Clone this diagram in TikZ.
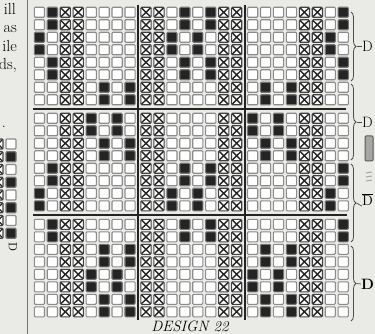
\documentclass[tikz,border=0pt]{standalone}
\usepackage{tikz}
\usetikzlibrary{decorations.pathreplacing}
\definecolor{paper}{RGB}{234,234,231}
\definecolor{ink}{RGB}{36,36,36}

\begin{document}
\begin{tikzpicture}[x=1pt, y=-1pt,
        cello/.style={draw=black!45, line width=1.1pt, fill=white, rounded corners=1pt},
        cellb/.style={draw=black!55, line width=1.1pt, fill=ink, rounded corners=1pt},
        cellx/.style={draw=black!75, line width=1.1pt, fill=white, rounded corners=1pt,
            path picture={\draw[crossline] (path picture bounding box.north west) -- (path picture bounding box.south east)
                (path picture bounding box.north east) -- (path picture bounding box.south west);}},
        crossline/.style={ink, line width=1.4pt},
        blockline/.style={ink, line width=1.9pt},
        bracemark/.style={black!70, line width=0.8pt, decorate, decoration={brace, amplitude=5pt}},
        dlabel/.style={font=\fontsize{15}{15}\selectfont, inner sep=0pt},
        pagetext/.style={font=\fontsize{16}{16}\selectfont, inner sep=0pt, anchor=base east}]

        % paper
        \fill[paper] (0,0) rectangle (375,334);
        \useasboundingbox (0,0) rectangle (375,334);
        \clip (0,0) rectangle (375,334);

        % text of the next column
        \node[pagetext] (wa) at (16,15) {ill};
        \node[pagetext] (wb) at (17,33) {as};
        \node[pagetext] (wc) at (17,52) {ile};
        \node[pagetext] (wd) at (17,70) {ds,};
        \node[pagetext] (we) at (6,128) {.};
        \draw[black!55, line width=0.8pt] (27,0) -- (27,334);

        % cut-off draft on the left
        \foreach \c [count=\k] in {o,b,o,b,o,b,o,b}{
            \pgfmathsetmacro\cy{144+(\k-1)*12.75}
            \draw[cellx] (-7,\cy-5) rectangle (3,\cy+5);
            \draw[cell\c] (6,\cy-5) rectangle (16,\cy+5);
        }
        \node[dlabel, font=\fontsize{12}{12}\selectfont, rotate=-90] (dl) at (13,247) {D};

        % design: 24 x 24 cells, each row drawn twice
        \foreach \pattern [count=\p] in {
            {o,b,x,x,o,o,o,o, x,x,o,b,o,b,x,x, o,o,o,o,x,x,o,b},
            {b,o,x,x,o,o,o,o, x,x,b,o,b,o,x,x, o,o,o,o,x,x,b,o},
            {o,b,x,x,o,o,o,o, x,x,o,b,o,b,x,x, o,o,o,o,x,x,o,b},
            {o,o,x,x,o,b,o,b, x,x,o,o,o,o,x,x, o,b,o,b,x,x,o,o},
            {o,o,x,x,b,o,b,o, x,x,o,o,o,o,x,x, b,o,b,o,x,x,o,o},
            {o,o,x,x,o,b,o,b, x,x,o,o,o,o,x,x, o,b,o,b,x,x,o,o},
            {o,b,x,x,o,o,o,o, x,x,o,b,o,b,x,x, o,o,o,o,x,x,o,b},
            {b,o,x,x,o,o,o,o, x,x,b,o,b,o,x,x, o,o,o,o,x,x,b,o},
            {o,b,x,x,o,o,o,o, x,x,o,b,o,b,x,x, o,o,o,o,x,x,o,b},
            {o,o,x,x,o,b,o,b, x,x,o,o,o,o,x,x, o,b,o,b,x,x,o,o},
            {o,o,x,x,b,o,b,o, x,x,o,o,o,o,x,x, b,o,b,o,x,x,o,o},
            {o,o,x,x,o,b,o,b, x,x,o,o,o,o,x,x, o,b,o,b,x,x,o,o}}{
            \foreach \h in {0,1}{
                \foreach \c [count=\k] in \pattern {
                    \pgfmathsetmacro\rw{2*(\p-1)+\h}
                    \pgfmathsetmacro\cx{34.3+(\k-1)*12.95+floor((\k-1)/8)*3+5.1}
                    \pgfmathsetmacro\cy{7.3+\rw*12.5+floor(\rw/8)*6+5}
                    \draw[cell\c] (\cx-5.1,\cy-5) rectangle (\cx+5.1,\cy+5);
                }
            }
        }

        % block division lines
        \draw[blockline, line width=1.6pt] (138.1,5) -- (138.1,320);
        \draw[blockline, line width=1.6pt] (244.8,5) -- (244.8,320);
        \draw[blockline] (33,109.3) -- (346,109.3);
        \draw[blockline] (33,215.3) -- (347,215.3);

        % braces with their labels
        \draw[bracemark] (351,12) -- (351,81);
        \coordinate (ta) at (356.5,46.5);
        \node[dlabel] (la) at (367.5,46.5) {D};
        \draw[black!70, line width=0.7pt] (ta) -- (la.west);

        \draw[bracemark] (351,84) -- (351,160);
        \coordinate (tb) at (356.5,122);
        \node[dlabel] (lb) at (367.5,122) {D};
        \draw[black!70, line width=0.7pt] (tb) -- (lb.west);

        \draw[bracemark] (351,164) -- (351,242);
        \coordinate (tc) at (356.5,203);
        \node[dlabel] (lc) at (367.5,200) {$\overline{\mathrm{D}}$};
        \draw[black!70, line width=0.7pt] (tc) -- (lc.south west);

        \draw[bracemark] (351,246) -- (351,321);
        \coordinate (td) at (356.5,283.5);
        \node[dlabel, font=\fontsize{15}{15}\bfseries] (ld) at (367.5,284) {D};
        \draw[black!70, line width=0.7pt] (td) -- (ld.west);

        % smudge beside the middle braces
        \draw[black!65, fill=black!35, line width=1pt, rounded corners=1pt] (365,136) rectangle (373,161);
        \draw[black!35, line width=1pt] (366,173) -- (372,172) (366,177) -- (372,176) (366,181) -- (372,180);

        % caption
        \node[font=\fontsize{15}{15}\itshape, anchor=north, inner sep=0pt] (cap) at (190,321) {DESIGN 22};
    \end{tikzpicture}
\end{document}
